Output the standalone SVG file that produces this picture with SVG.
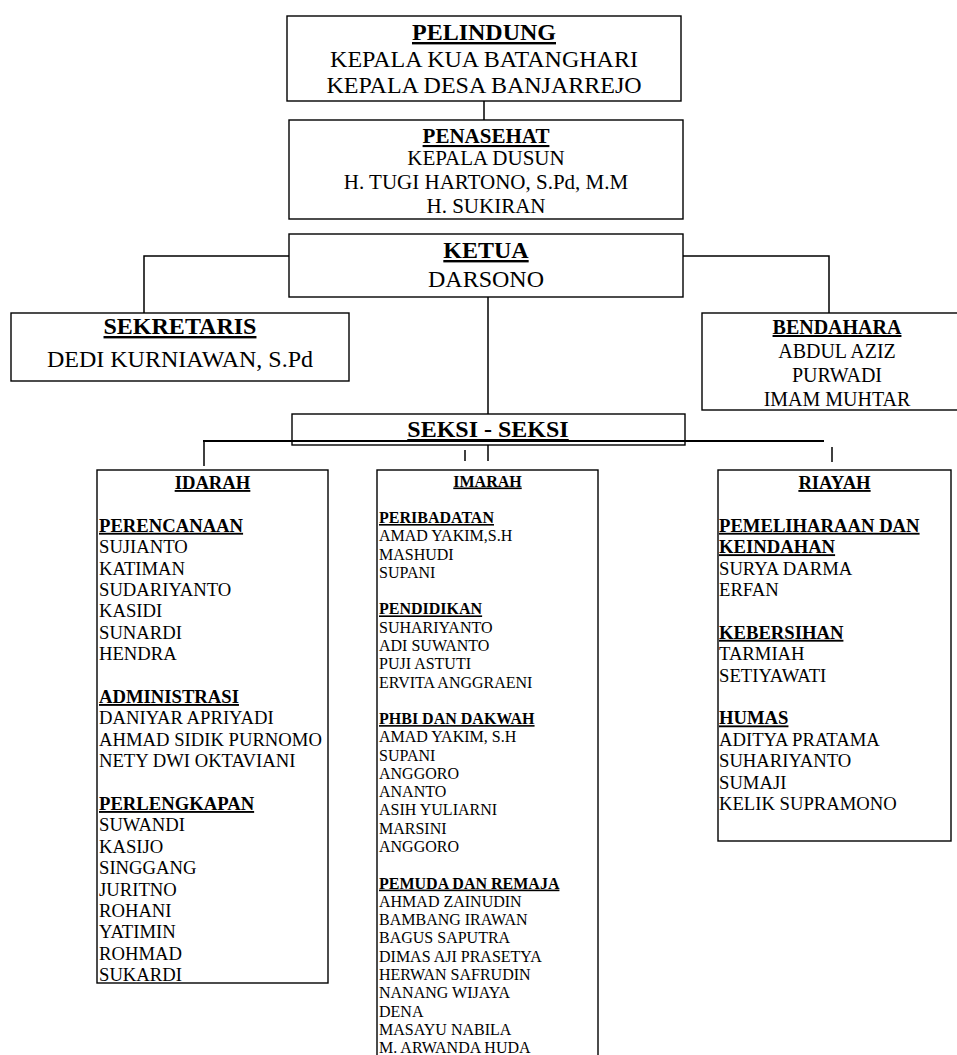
<svg xmlns="http://www.w3.org/2000/svg" width="957" height="1055" viewBox="0 0 957 1055">
<style>
  text { font-family: "Liberation Serif", "Times New Roman", serif; fill: #000; }
  .box { fill: #fff; stroke: #000; stroke-width: 1.4; }
  .ln { stroke: #000; stroke-width: 1.5; fill: none; }
  .thick { stroke: #000; stroke-width: 2.2; fill: none; }
  .c { text-anchor: middle; }
  .h { font-weight: bold; text-decoration: underline; }
  .f24 { font-size: 24px; }
  .f21 { font-size: 21px; }
  .f20 { font-size: 20px; }
  .f18 { font-size: 18.67px; }
  .f16 { font-size: 16px; }
</style>
<rect x="0" y="0" width="957" height="1055" fill="#fff"/>

<g id="connectors">
  <line class="ln" x1="484" y1="101" x2="484" y2="120"/>
  <polyline class="ln" points="289,256 144,256 144,313"/>
  <polyline class="ln" points="683,256 829,256 829,313"/>
  <line class="ln" x1="488" y1="297" x2="488" y2="461"/>
</g>

<g id="pelindung">
  <rect class="box" x="287" y="16" width="394" height="85"/>
  <text class="c f24 h" x="484" y="40">PELINDUNG</text>
  <text class="c f24" x="484" y="67">KEPALA KUA BATANGHARI</text>
  <text class="c f24" x="484" y="93">KEPALA DESA BANJARREJO</text>
</g>

<g id="penasehat">
  <rect class="box" x="289" y="120" width="394" height="99"/>
  <text class="c f21 h" x="486" y="143">PENASEHAT</text>
  <text class="c f21" x="486" y="165">KEPALA DUSUN</text>
  <text class="c f21" x="486" y="189">H. TUGI HARTONO, S.Pd, M.M</text>
  <text class="c f21" x="486" y="213">H. SUKIRAN</text>
</g>

<g id="ketua">
  <rect class="box" x="289" y="234" width="394" height="63"/>
  <text class="c f24 h" x="486" y="258">KETUA</text>
  <text class="c f24" x="486" y="287">DARSONO</text>
</g>

<g id="sekretaris">
  <rect class="box" x="11" y="313" width="338" height="68"/>
  <text class="c f24 h" x="180" y="334">SEKRETARIS</text>
  <text class="c f24" x="180" y="367">DEDI KURNIAWAN, S.Pd</text>
</g>

<g id="bendahara">
  <rect class="box" x="702" y="313" width="262" height="97"/>
  <text class="c f20 h" x="837" y="334">BENDAHARA</text>
  <text class="c f20" x="837" y="358">ABDUL AZIZ</text>
  <text class="c f20" x="837" y="382">PURWADI</text>
  <text class="c f20" x="837" y="406">IMAM MUHTAR</text>
</g>

<g id="seksi">
  <rect class="box" x="292" y="414" width="393" height="31"/>
  <text class="c f24 h" x="488" y="437">SEKSI - SEKSI</text>
</g>

<g id="seksi-connectors">
  <line class="thick" x1="203" y1="441" x2="824" y2="441"/>
  <line class="ln" x1="204" y1="441" x2="204" y2="466"/>
  <line class="ln" x1="465" y1="450" x2="465" y2="461"/>
  <line class="ln" x1="832" y1="447" x2="832" y2="462"/>
</g>

<g id="idarah">
  <rect class="box" x="97" y="470" width="231" height="513"/>
  <text class="c f18 h" x="212.5" y="489">IDARAH</text>
  <text class="f18">
    <tspan x="99" y="531.8" class="h">PERENCANAAN</tspan>
    <tspan x="99" dy="21.4">SUJIANTO</tspan>
    <tspan x="99" dy="21.4">KATIMAN</tspan>
    <tspan x="99" dy="21.4">SUDARIYANTO</tspan>
    <tspan x="99" dy="21.4">KASIDI</tspan>
    <tspan x="99" dy="21.4">SUNARDI</tspan>
    <tspan x="99" dy="21.4">HENDRA</tspan>
    <tspan x="99" dy="42.8" class="h">ADMINISTRASI</tspan>
    <tspan x="99" dy="21.4">DANIYAR APRIYADI</tspan>
    <tspan x="99" dy="21.4">AHMAD SIDIK PURNOMO</tspan>
    <tspan x="99" dy="21.4">NETY DWI OKTAVIANI</tspan>
    <tspan x="99" dy="42.8" class="h">PERLENGKAPAN</tspan>
    <tspan x="99" dy="21.4">SUWANDI</tspan>
    <tspan x="99" dy="21.4">KASIJO</tspan>
    <tspan x="99" dy="21.4">SINGGANG</tspan>
    <tspan x="99" dy="21.4">JURITNO</tspan>
    <tspan x="99" dy="21.4">ROHANI</tspan>
    <tspan x="99" dy="21.4">YATIMIN</tspan>
    <tspan x="99" dy="21.4">ROHMAD</tspan>
    <tspan x="99" dy="21.4">SUKARDI</tspan>
  </text>
</g>

<g id="imarah">
  <rect class="box" x="377" y="470" width="221" height="600"/>
  <text class="c f16 h" x="487.5" y="486.5">IMARAH</text>
  <text class="f16">
    <tspan x="379" y="523" class="h">PERIBADATAN</tspan>
    <tspan x="379" dy="18.28">AMAD YAKIM,S.H</tspan>
    <tspan x="379" dy="18.28">MASHUDI</tspan>
    <tspan x="379" dy="18.28">SUPANI</tspan>
    <tspan x="379" dy="36.56" class="h">PENDIDIKAN</tspan>
    <tspan x="379" dy="18.28">SUHARIYANTO</tspan>
    <tspan x="379" dy="18.28">ADI SUWANTO</tspan>
    <tspan x="379" dy="18.28">PUJI ASTUTI</tspan>
    <tspan x="379" dy="18.28">ERVITA ANGGRAENI</tspan>
    <tspan x="379" dy="36.56" class="h">PHBI DAN DAKWAH</tspan>
    <tspan x="379" dy="18.28">AMAD YAKIM, S.H</tspan>
    <tspan x="379" dy="18.28">SUPANI</tspan>
    <tspan x="379" dy="18.28">ANGGORO</tspan>
    <tspan x="379" dy="18.28">ANANTO</tspan>
    <tspan x="379" dy="18.28">ASIH YULIARNI</tspan>
    <tspan x="379" dy="18.28">MARSINI</tspan>
    <tspan x="379" dy="18.28">ANGGORO</tspan>
    <tspan x="379" dy="36.56" class="h">PEMUDA DAN REMAJA</tspan>
    <tspan x="379" dy="18.28">AHMAD ZAINUDIN</tspan>
    <tspan x="379" dy="18.28">BAMBANG IRAWAN</tspan>
    <tspan x="379" dy="18.28">BAGUS SAPUTRA</tspan>
    <tspan x="379" dy="18.28">DIMAS AJI PRASETYA</tspan>
    <tspan x="379" dy="18.28">HERWAN SAFRUDIN</tspan>
    <tspan x="379" dy="18.28">NANANG WIJAYA</tspan>
    <tspan x="379" dy="18.28">DENA</tspan>
    <tspan x="379" dy="18.28">MASAYU NABILA</tspan>
    <tspan x="379" dy="18.28">M. ARWANDA HUDA</tspan>
  </text>
</g>

<g id="riayah">
  <rect class="box" x="718" y="470" width="233" height="371"/>
  <text class="c f18 h" x="834.5" y="489">RIAYAH</text>
  <text class="f18">
    <tspan x="719" y="531.8" class="h">PEMELIHARAAN DAN</tspan>
    <tspan x="719" dy="21.4" class="h">KEINDAHAN</tspan>
    <tspan x="719" dy="21.4">SURYA DARMA</tspan>
    <tspan x="719" dy="21.4">ERFAN</tspan>
    <tspan x="719" dy="42.8" class="h">KEBERSIHAN</tspan>
    <tspan x="719" dy="21.4">TARMIAH</tspan>
    <tspan x="719" dy="21.4">SETIYAWATI</tspan>
    <tspan x="719" dy="42.8" class="h">HUMAS</tspan>
    <tspan x="719" dy="21.4">ADITYA PRATAMA</tspan>
    <tspan x="719" dy="21.4">SUHARIYANTO</tspan>
    <tspan x="719" dy="21.4">SUMAJI</tspan>
    <tspan x="719" dy="21.4">KELIK SUPRAMONO</tspan>
  </text>
</g>
</svg>
